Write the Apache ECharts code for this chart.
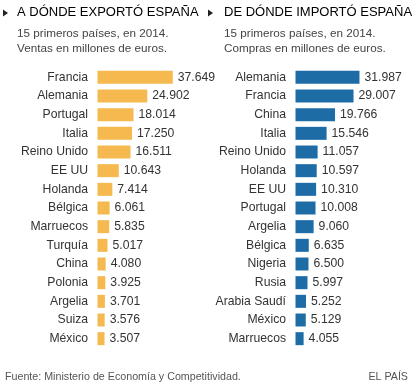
<!DOCTYPE html>
<html><head><meta charset="utf-8">
<script src="https://cdn.jsdelivr.net/npm/echarts@6/dist/echarts.min.js"></script>
<style>html,body{margin:0;padding:0;background:#fff}#c{width:414px;height:387px}</style>
</head><body><div id="c"></div>
<script>
const expCountries = ['Francia','Alemania','Portugal','Italia','Reino Unido','EE UU','Holanda','Bélgica','Marruecos','Turquía','China','Polonia','Argelia','Suiza','México'];
const expValues = [37649,24902,18014,17250,16511,10643,7414,6061,5835,5017,4080,3925,3701,3576,3507];
const impCountries = ['Alemania','Francia','China','Italia','Reino Unido','Holanda','EE UU','Portugal','Argelia','Bélgica','Nigeria','Rusia','Arabia Saudí','México','Marruecos'];
const impValues = [31987,29007,19766,15546,11057,10597,10310,10008,9060,6635,6500,5997,5252,5129,4055];

const FONT = '"Liberation Sans", Arial, sans-serif';
const fmt = v => { const s = String(v); return s.length > 3 ? s.slice(0, -3) + '.' + s.slice(-3) : s; };

const chart = echarts.init(document.getElementById('c'), null, {renderer: 'canvas'});
const gridTop = 68, gridH = 280;
function yAx(idx, cats) {
  return {type: 'category', gridIndex: idx, data: cats, inverse: true,
    axisLine: {show: false}, axisTick: {show: false},
    axisLabel: {margin: 9.5, fontSize: 12.2, color: '#333', fontFamily: FONT}};
}
function xAx(idx) {
  return {type: 'value', gridIndex: idx, min: 0, max: 40000, show: false, splitLine: {show: false}};
}
function ser(idx, vals, color) {
  return {type: 'bar', xAxisIndex: idx, yAxisIndex: idx, data: vals, barWidth: 13,
    itemStyle: {color: color}, silent: true,
    label: {show: true, position: 'right', distance: 5, fontSize: 12.2, color: '#333', fontFamily: FONT,
      formatter: p => fmt(p.value)}};
}
function txt(x, y, s, size, color) {
  return {type: 'text', left: x, top: y, style: {text: s, fontSize: size, fill: color, fontFamily: FONT}};
}
chart.setOption({
  animation: false,
  grid: [
    {left: 97.5, top: gridTop, width: 80, height: gridH},
    {left: 295.5, top: gridTop, width: 80, height: gridH}
  ],
  xAxis: [xAx(0), xAx(1)],
  yAxis: [yAx(0, expCountries), yAx(1, impCountries)],
  series: [ser(0, expValues, '#F5B94F'), ser(1, impValues, '#1E6CA5')],
  graphic: [
    {type: 'polygon', shape: {points: [[3,9.5],[8,13],[3,16.5]]}, style: {fill: '#222'}},
    {type: 'polygon', shape: {points: [[208,9.5],[213,13],[208,16.5]]}, style: {fill: '#222'}},
    txt(17, 5.5, 'A DÓNDE EXPORTÓ ESPAÑA', 13, '#000'),
    txt(224, 5.5, 'DE DÓNDE IMPORTÓ ESPAÑA', 13, '#000'),
    txt(17, 27.5, '15 primeros países, en 2014.', 11.7, '#444'),
    txt(17, 43, 'Ventas en millones de euros.', 11.7, '#444'),
    txt(224, 27.5, '15 primeros países, en 2014.', 11.7, '#444'),
    txt(224, 43, 'Compras en millones de euros.', 11.7, '#444'),
    txt(5, 372, 'Fuente: Ministerio de Economía y Competitividad.', 10.7, '#555'),
    {type: 'text', right: 6, top: 372, style: {text: 'EL PAÍS', fontSize: 10.7, fill: '#555', fontFamily: FONT}}
  ]
});
</script></body></html>
